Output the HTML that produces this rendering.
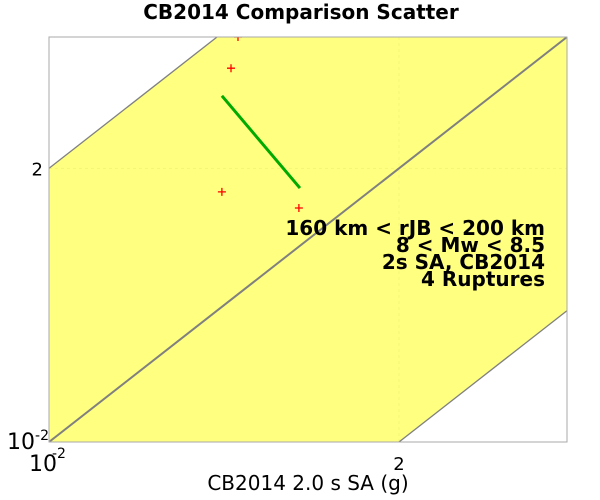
<!DOCTYPE html>
<html><head><meta charset="utf-8"><style>
html,body{margin:0;background:#fff;overflow:hidden;width:600px;height:500px}
svg{display:block}
svg text{font-family:"DejaVu Sans","Liberation Sans",sans-serif}
</style></head><body>
<svg id="chart" width="600" height="500" xmlns="http://www.w3.org/2000/svg">
<text x="301" y="19" text-anchor="middle" font-size="20" font-weight="bold">CB2014 Comparison Scatter</text>
<g id="plot"></g>
<text x="308" y="490" text-anchor="middle" font-size="20">CB2014 2.0 s SA (g)</text>
<g font-size="20" font-weight="bold" text-anchor="end">
<text x="545" y="235">160 km &lt; rJB &lt; 200 km</text>
<text x="545" y="252">8 &lt; Mw &lt; 8.5</text>
<text x="545" y="269">2s SA, CB2014</text>
<text x="545" y="286">4 Ruptures</text>
</g>
</svg>
<script>
const xTickVals=[-2,-1];
const xTickLabels=["10<tspan dx='-5' dy='-13' font-size='14'>-2</tspan>","2"];
const yTickVals=[-2,-1];
const yTickLabels=["10<tspan dy='-9' font-size='14'>-2</tspan>","2"];
const pointsX=[-1.46,-1.48,-1.506,-1.286];
const pointsY=[-0.52,-0.634,-1.086,-1.145];
const lineX=[-1.506,-1.283];
const lineY=[-0.735,-1.072];
const L=49,R=567,T=37,B=442,xmin=-2,xmax=-0.52,ymin=-2,ymax=-0.52;
const sx=v=>L+(v-xmin)/(xmax-xmin)*(R-L);
const sy=v=>B-(v-ymin)/(ymax-ymin)*(B-T);
const NS="http://www.w3.org/2000/svg";
const g=document.getElementById('plot');
function mk(t,a){const e=document.createElementNS(NS,t);for(const k in a)e.setAttribute(k,a[k]);g.appendChild(e);return e;}
const cp=mk('clipPath',{id:'cp'});g.removeChild(cp);
const cr=document.createElementNS(NS,'rect');cr.setAttribute('x',L);cr.setAttribute('y',T);cr.setAttribute('width',R-L);cr.setAttribute('height',B-T);cp.appendChild(cr);g.appendChild(cp);
const inner=mk('g',{'clip-path':'url(#cp)'});
function mi(t,a){const e=mk(t,a);inner.appendChild(e);return e;}
const lo=xmin-2,hi=xmax+2;
let band=mi('polygon',{points:`${sx(lo)},${sy(lo+1)} ${sx(hi)},${sy(hi+1)} ${sx(hi)},${sy(hi-1)} ${sx(lo)},${sy(lo-1)}`,fill:'#ffff80'});


let ge=mi('line',{x1:sx(-1),x2:sx(-1),y1:T,y2:B,stroke:'#f4f47a','stroke-dasharray':'3,3'});

ge=mi('line',{x1:L,x2:R,y1:sy(-1),y2:sy(-1),stroke:'#f4f47a','stroke-dasharray':'3,3'});

[[1,'upper-bound-line'],[0,'one-to-one-line'],[-1,'lower-bound-line']].forEach(([o,n])=>{
 const e=mi('line',{x1:sx(lo),y1:sy(lo+o),x2:sx(hi),y2:sy(hi+o),stroke:'#808080','stroke-width':o===0?2:1.3});
 
 
});
const gl=mi('line',{x1:sx(lineX[0]),y1:sy(lineY[0]),x2:sx(lineX[1]),y2:sy(lineY[1]),stroke:'#00aa00','stroke-width':3});


pointsX.forEach((x,i)=>{
 const px=sx(x),py=sy(pointsY[i]);
 const p=mi('path',{d:`M${px-4},${py}H${px+4}M${px},${py-4}V${py+4}`,stroke:'#ff0000','stroke-width':1.3});
 
 
});
const fr=mk('rect',{x:L,y:T,width:R-L,height:B-T,fill:'none',stroke:'#aaaaaa'});


xTickVals.forEach((v,i)=>{
 const t=mk('text',i===0?{x:29,y:471,'text-anchor':'start','font-size':22}:{x:sx(v),y:470,'text-anchor':'middle','font-size':18});
 t.innerHTML=xTickLabels[i];
 
 
});
yTickVals.forEach((v,i)=>{
 const t=mk('text',{x:i===0?49:43,y:sy(v)+7,'text-anchor':'end','font-size':i===0?22:18});
 t.innerHTML=yTickLabels[i];
 
 
});
</script>
</body></html>
